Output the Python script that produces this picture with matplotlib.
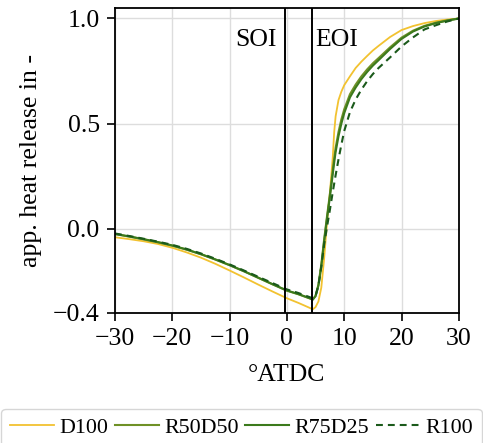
import matplotlib
matplotlib.use('Agg')
import matplotlib.pyplot as plt

plt.rcParams['font.family'] = ['Liberation Serif', 'DejaVu Serif']

# Kurbelwinkel in °ATDC
angle = [-30, -27.5, -25, -22.5, -20, -17.5, -15, -12.5, -10, -7.5, -5, -2.5,
         0, 2, 4, 4.5, 5, 5.5, 6, 6.5, 7, 7.5, 8, 8.25, 8.5, 9, 9.5, 10,
         11, 12, 13, 14, 15, 16, 18, 20, 22, 24, 26, 28, 30]

d100 = [-0.040, -0.049, -0.059, -0.072, -0.090, -0.112, -0.137, -0.166, -0.198,
        -0.231, -0.265, -0.298,
        -0.330, -0.352, -0.376, -0.383, -0.372, -0.345, -0.280, -0.140, 0.030,
        0.170, 0.340, 0.460, 0.535, 0.612, 0.652, 0.683,
        0.725, 0.765, 0.795, 0.822, 0.848, 0.870, 0.912, 0.945, 0.964, 0.978,
        0.988, 0.995, 1.0]

r50d50 = [-0.025, -0.037, -0.050, -0.064, -0.080, -0.099, -0.121, -0.146, -0.173,
          -0.202, -0.233, -0.264,
          -0.294, -0.311, -0.331, -0.337, -0.318, -0.265, -0.170, -0.050, 0.060,
          0.165, 0.280, 0.335, 0.385, 0.460, 0.520, 0.568,
          0.640, 0.686, 0.725, 0.758, 0.787, 0.812, 0.863, 0.909, 0.942, 0.965,
          0.980, 0.991, 1.0]

r75d25 = [-0.024, -0.036, -0.049, -0.063, -0.079, -0.098, -0.120, -0.145, -0.172,
          -0.201, -0.232, -0.263,
          -0.293, -0.310, -0.330, -0.336, -0.320, -0.270, -0.180, -0.060, 0.050,
          0.150, 0.260, 0.315, 0.365, 0.440, 0.500, 0.550,
          0.625, 0.672, 0.712, 0.746, 0.776, 0.802, 0.855, 0.903, 0.938, 0.962,
          0.978, 0.990, 1.0]

r100 = [-0.022, -0.034, -0.047, -0.061, -0.076, -0.095, -0.117, -0.142, -0.169,
        -0.198, -0.228, -0.258,
        -0.288, -0.305, -0.325, -0.330, -0.318, -0.270, -0.180, -0.075, 0.010,
        0.090, 0.175, 0.215, 0.255, 0.330, 0.400, 0.465,
        0.555, 0.615, 0.662, 0.702, 0.736, 0.765, 0.815, 0.867, 0.910, 0.948,
        0.968, 0.986, 1.0]

soi = -0.4   # start of injection
eoi = 4.4    # end of injection

fig = plt.figure(figsize=(4.83, 4.43), dpi=100)
ax = fig.add_axes([0.238, 0.2935, 0.712, 0.6885])

ax.plot(angle, d100, color='#f2c230', lw=1.3, label='D100')
ax.plot(angle, r50d50, color='#6f9126', lw=1.5, label='R50D50')
ax.plot(angle, r75d25, color='#3c7a1c', lw=1.5, label='R75D25')
ax.plot(angle, r100, color='#1b5a1b', lw=1.5, ls=(0, (3.3, 2.4)), label='R100')

ax.axvline(soi, color='black', lw=1.4)
ax.axvline(eoi, color='black', lw=1.4)
ax.text(-1.7, 0.90, 'SOI', ha='right', va='center', fontsize=18.5)
ax.text(5.0, 0.90, 'EOI', ha='left', va='center', fontsize=18.5)

ax.set_xlim(-30, 30)
ax.set_ylim(-0.4, 1.05)
ax.set_xticks([-30, -20, -10, 0, 10, 20, 30])
ax.set_yticks([-0.4, 0.0, 0.5, 1.0])
ax.grid(True, color='#dddddd', lw=1.0)
ax.set_axisbelow(True)
ax.tick_params(labelsize=18.5, length=5.5, width=1.2, pad=5.5)
for s in ax.spines.values():
    s.set_linewidth(1.3)

ax.set_xlabel('°ATDC', fontsize=18.5, labelpad=10)
ax.set_ylabel('app. heat release in -', fontsize=18.5, labelpad=8)

fig.legend(loc='center', bbox_to_anchor=(0.5, 0.035), ncol=4,
           fontsize=15.8, handlelength=2.0, handletextpad=0.25,
           columnspacing=0.3, borderpad=0.4, borderaxespad=0.0,
           frameon=True, edgecolor='#cccccc', fancybox=True)

fig.savefig('out.png', dpi=100)
